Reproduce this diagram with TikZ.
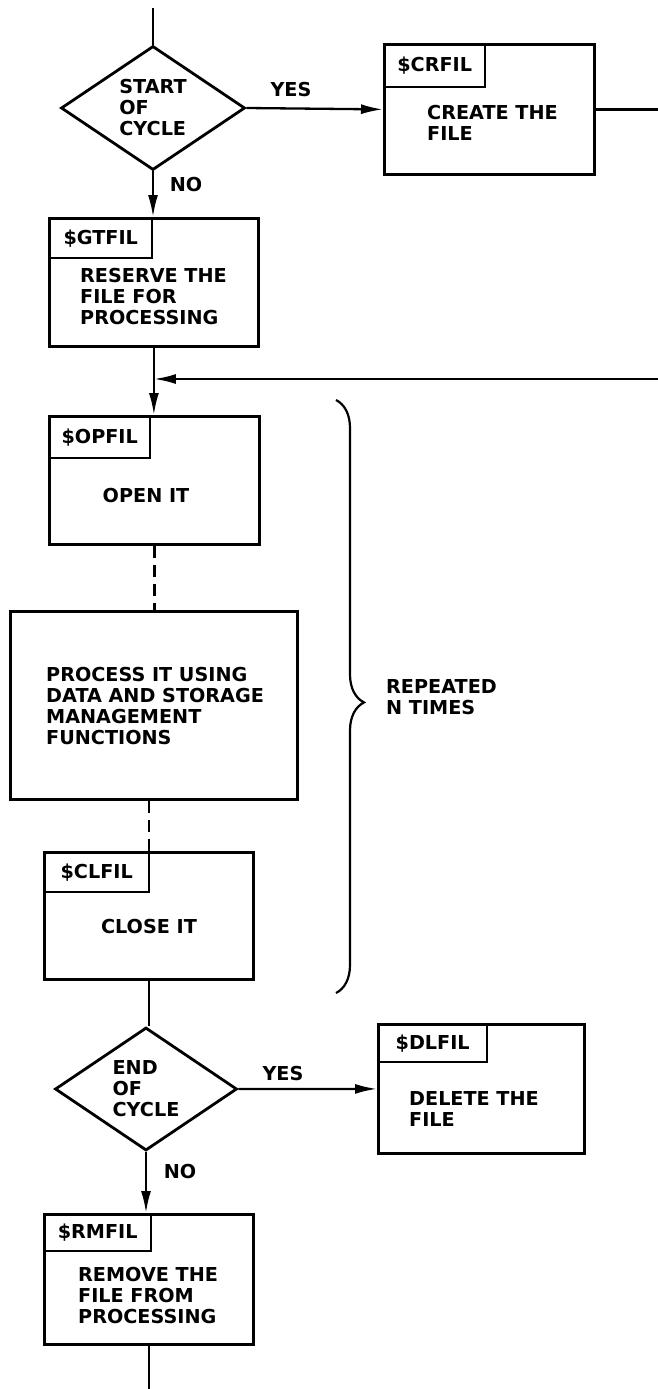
\documentclass[tikz,border=0pt]{standalone}
\usepackage{fontspec}
\setmainfont{DejaVu Sans}
\usetikzlibrary{shapes.geometric,arrows.meta,decorations.pathreplacing}
\begin{document}
\begin{tikzpicture}[x=1pt,y=-1pt,
  every node/.style={font=\fontsize{19.2}{21}\selectfont\bfseries},
  box/.style={draw,line width=2.8pt,rectangle,inner sep=0pt,anchor=north west},
  tab/.style={draw,line width=2.4pt,rectangle,inner sep=0pt,anchor=north west},
  body/.style={anchor=west,align=left,inner sep=0pt},
  dia/.style={draw,diamond,line width=2.8pt,inner sep=0pt,align=left},
  lbl/.style={inner sep=0pt},
  conn/.style={line width=2.3pt},
  arr/.style={conn,-{Latex[length=22pt,width=10pt]}},
  dashline/.style={dash pattern=on 12pt off 7pt}
]
\useasboundingbox (0,0) rectangle (658,1389);
\fill[white] (0,0) rectangle (658,1389);

% top decision
\node[dia,minimum width=184pt,minimum height=124pt] (d1) at (153,108) {START\\OF\\CYCLE};
\coordinate (top) at (d1.north |- 0,8);

% $CRFIL
\node[box,minimum width=210pt,minimum height=130pt] (crf) at (383,43) {};
\node[tab,minimum width=101pt,minimum height=43pt] (crftab) at (crf.north west) {\$CRFIL};
\node[body] (crftxt) at (427,123) {CREATE THE\\FILE};
\coordinate (rt1) at (crf.east -| 658,0);

% $GTFIL
\node[box,minimum width=209pt,minimum height=128pt] (gtf) at (48,217) {};
\node[tab,minimum width=103pt,minimum height=40pt] (gtftab) at (gtf.north west) {\$GTFIL};
\node[body] (gtftxt) at (80,297) {RESERVE THE\\FILE FOR\\PROCESSING};

% junction
\coordinate (j) at (gtf.south |- 0,379);
\coordinate (rt2) at (658,379);

% $OPFIL
\node[box,minimum width=210pt,minimum height=128pt] (opf) at (48,415) {};
\node[tab,minimum width=101pt,minimum height=42pt] (opftab) at (opf.north west) {\$OPFIL};
\node[lbl] (opftxt) at (146,496) {OPEN IT};

% process
\node[box,minimum width=287pt,minimum height=188pt] (proc) at (9,610) {};
\node[body] (proctxt) at (46,706) {PROCESS IT USING\\DATA AND STORAGE\\MANAGEMENT\\FUNCTIONS};

% $CLFIL
\node[box,minimum width=209pt,minimum height=127pt] (clf) at (43,851) {};
\node[tab,minimum width=105pt,minimum height=40pt] (clftab) at (clf.north west) {\$CLFIL};
\node[lbl] (clftxt) at (149,926) {CLOSE IT};

% brace
\draw[line width=2.2pt,decorate,decoration={brace,amplitude=28pt,aspect=0.51}] (336,400) -- (336,993);
\node[body] (rep) at (386,697) {REPEATED\\N TIMES};

% end decision
\node[dia,minimum width=182pt,minimum height=120pt] (d2) at (146,1089) {END\\OF\\CYCLE};

% $DLFIL
\node[box,minimum width=206pt,minimum height=129pt] (dlf) at (377,1023) {};
\node[tab,minimum width=109pt,minimum height=38pt] (dlftab) at (dlf.north west) {\$DLFIL};
\node[body] (dlftxt) at (409,1109) {DELETE THE\\FILE};

% $RMFIL
\node[box,minimum width=209pt,minimum height=130pt] (rmf) at (43,1213) {};
\node[tab,minimum width=107pt,minimum height=37pt] (rmftab) at (rmf.north west) {\$RMFIL};
\node[body] (rmftxt) at (78,1295) {REMOVE THE\\FILE FROM\\PROCESSING};
\coordinate (bot) at (rmf.south |- 0,1389);

% labels
\node[lbl] (yes1) at (291,90) {YES};
\node[lbl] (no1) at (186,185) {NO};
\node[lbl] (yes2) at (283,1073) {YES};
\node[lbl] (no2) at (180,1171) {NO};

% connectors
\draw[conn] (top) -- (d1.north);
\draw[arr] (d1.east) -- (crf.west);
\draw[conn] (crf.east) -- (rt1);
\draw[arr] (d1.south) -- (d1.south |- gtf.north);
\draw[arr] (gtf.south) -- (gtf.south |- opf.north);
\draw[arr] (rt2) -- (j);
\draw[conn,dashline] (opf.south) -- (opf.south |- proc.north);
\draw[conn,dashline] (clf.north |- proc.south) -- (clf.north);
\draw[conn] (clf.south) -- (clf.south |- d2.north);
\draw[arr] (d2.east) -- (dlf.west);
\draw[arr] (d2.south) -- (d2.south |- rmf.north);
\draw[conn] (rmf.south) -- (bot);
\end{tikzpicture}
\end{document}
